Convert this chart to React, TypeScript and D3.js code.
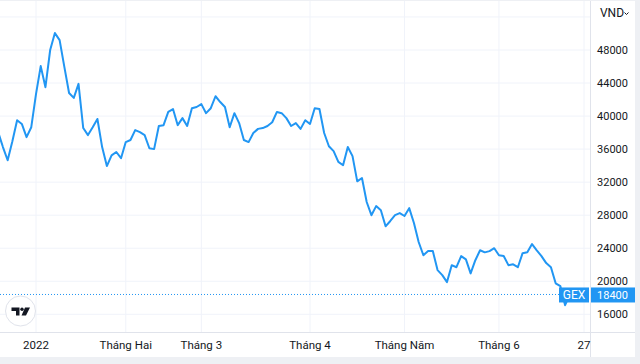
import React from "react";
import * as d3 from "d3";

// GEX daily close (VND), starting late Dec 2021; index 8 = 4 Jan 2022
const prices: number[] = [
  38050, 36250, 34650, 36950, 39500, 39050, 37450, 38650,
  42650, 46050, 43500, 48000, 50050, 49200, 45950, 42800, 42200, 43900,
  38550, 37700, 38650, 39650, 36250, 33950, 35250, 35650, 34900,
  36850, 37100, 38300, 38050, 37700, 36100, 36000, 38800, 38900, 40500,
  40850, 38900, 39750, 38800, 40950, 41100,
  41450, 40350, 40950, 42400, 41700, 41100, 38650, 40350, 39150, 37100,
  36850, 37950, 38450, 38550, 38800, 39250, 40500, 40350, 39750, 38800,
  39150, 38450, 39500,
  39050, 40950, 40850, 37950, 36350, 35750, 34450, 34050, 36250, 35150,
  32100, 32500, 29600, 28000, 29100, 28600, 26650, 27300, 28000, 28250,
  27900, 28850, 27050, 24750, 23150, 23650, 23650, 21350, 20750, 19900,
  21950, 21700, 23050, 22650, 20950, 22550, 23750, 23500, 23650, 24000,
  23150, 23050, 21950, 22050, 21700, 23400, 23500, 24500, 23750, 23050,
  22200, 21700, 19750, 19400, 17100, 18400,
];
const firstIndex = -8; // bar index of prices[0] relative to 4 Jan 2022

const xTickLabels: string[] = ["2022", "Tháng Hai", "Tháng 3", "Tháng 4", "Tháng Năm", "Tháng 6", "27"];
const xTickIndex: number[] = [0, 19, 35, 58, 78, 98, 116];
const yTicks: number[] = [16000, 20000, 24000, 28000, 32000, 36000, 40000, 44000, 48000];
const lastPrice = 18400;
const symbol = "GEX";
const currency = "VND";

const W = 640;
const H = 364;
const plotRight = 590;
const plotBottom = 332;
const lineColor = "#2196f3";
const gridColor = "#f0f3fa";
const textColor = "#131722";
const font = "Roboto, 'Noto Sans', sans-serif";

export default function App() {
  const x = d3.scaleLinear().domain([0, 116]).range([36, 584]);
  const y = d3.scaleLinear().domain([16000, 48000]).range([314.3, 50]);

  const pts: [number, number][] = prices.map((p, k) => [x(k + firstIndex), y(p)]);
  const line = d3.line<[number, number]>().x((d) => d[0]).y((d) => d[1]);
  const path = line(pts) || "";

  const yLast = y(lastPrice);

  return (
    <svg
      width={W}
      height={H}
      style={{ position: "absolute", left: 0, top: 0, background: "#ffffff" }}
      fontFamily={font}
    >
      <defs>
        <clipPath id="plotClip">
          <rect x={0} y={0} width={plotRight} height={plotBottom} />
        </clipPath>
      </defs>
      {/* outer frame */}
      <rect x={0} y={0} width={W} height={H} fill="#eef0f4" />
      <rect x={0} y={1} width={635} height={356} fill="#ffffff" />

      {/* grid */}
      {[52000, ...yTicks].map((t) => (
        <line key={"hg" + t} x1={0} x2={plotRight} y1={y(t)} y2={y(t)} stroke={gridColor} strokeWidth={1} />
      ))}
      {xTickIndex.map((t) => (
        <line key={"vg" + t} x1={x(t)} x2={x(t)} y1={1} y2={plotBottom} stroke={gridColor} strokeWidth={1} />
      ))}

      {/* axes borders */}
      <line x1={0} x2={635} y1={plotBottom + 0.5} y2={plotBottom + 0.5} stroke="#e0e3eb" />
      <line x1={plotRight + 0.5} x2={plotRight + 0.5} y1={1} y2={357} stroke="#e0e3eb" />

      {/* last price dotted line */}
      <line
        x1={0}
        x2={559}
        y1={yLast}
        y2={yLast}
        stroke={lineColor}
        strokeWidth={1}
        strokeDasharray="1 2"
      />

      {/* price line */}
      <g clipPath="url(#plotClip)">
        <path d={path} fill="none" stroke={lineColor} strokeWidth={2} strokeLinejoin="round" />
      </g>

      {/* symbol label */}
      <rect x={559} y={yLast - 7} width={30} height={15} fill={lineColor} />
      <text x={574} y={yLast + 4.5} fill="#ffffff" fontSize={12} textAnchor="middle">
        {symbol}
      </text>
      <rect x={591} y={yLast - 7} width={44} height={15} fill={lineColor} />
      <text x={628} y={yLast + 4.5} fill="#ffffff" fontSize={11} textAnchor="end">
        {lastPrice}
      </text>

      {/* y axis labels */}
      {yTicks.map((t) => (
        <text key={"yl" + t} x={628} y={y(t) + 4} fill={textColor} fontSize={11} textAnchor="end">
          {t}
        </text>
      ))}
      <text x={612} y={17} fill={textColor} fontSize={12} textAnchor="middle">
        {currency}
      </text>
      <path d="M624.5,12.5 L626.5,14.5 L628.5,12.5" fill="none" stroke={textColor} strokeWidth={1} />

      {/* x axis labels */}
      {xTickIndex.map((t, i) => (
        <text key={"xl" + t} x={x(t)} y={349} fill={textColor} fontSize={11.5} textAnchor="middle">
          {xTickLabels[i]}
        </text>
      ))}

      {/* logo */}
      <circle cx={20.5} cy={311} r={15} fill="#ffffff" stroke="#e0e3eb" strokeWidth={1} />
      <path d="M11.5,307.5 H19.5 V315.5 H16 V311 H11.5 Z" fill={textColor} />
      <circle cx={22} cy={309.3} r={1.7} fill={textColor} />
      <path d="M25,307.5 H30 L26,315.5 H21.5 Z" fill={textColor} />
    </svg>
  );
}
